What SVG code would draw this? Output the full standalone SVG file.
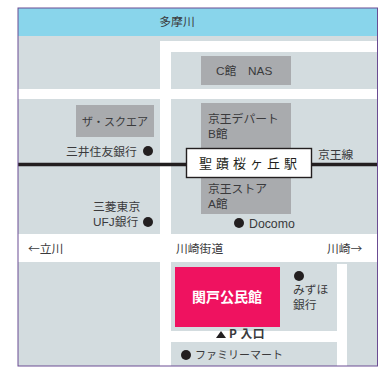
<svg xmlns="http://www.w3.org/2000/svg" width="392" height="367" viewBox="0 0 392 367">
<style>
text{font-family:"Noto Sans CJK JP","Liberation Sans",sans-serif;font-size:11.8px;fill:#3a3a3c}
.l{font-family:"Liberation Sans","Noto Sans CJK JP",sans-serif}
.g{fill:#a9abae}
.d{fill:#231f20}
</style>
<rect width="392" height="367" fill="#fff"/>
<rect id="ground" x="18" y="8" width="360" height="358" fill="#d3dcdf"/>
<g id="river"><rect x="18" y="8" width="360" height="28" fill="#89d5eb"/><text x="177" y="26" text-anchor="middle">多摩川</text></g>
<g id="roads" fill="#fff">
<rect x="18" y="89" width="360" height="10"/>
<rect x="160" y="41" width="11" height="325"/>
<rect x="160" y="41" width="218" height="11"/>
<rect x="18" y="234" width="360" height="28"/>
<rect x="171" y="331" width="170" height="11"/>
<rect x="337" y="264" width="10" height="102"/>
</g>
<g id="line-label"><text x="318" y="159">京王線</text></g>
<g id="connectors"><line x1="18" y1="164.500" x2="378" y2="164.500" stroke="#231f20" stroke-width="3.400"/></g>
<g id="c-nas"><rect class="g" x="201" y="56" width="90" height="29"/><text class="l" x="216" y="75">C館</text><text class="l" x="248" y="75">NAS</text></g>
<g id="keio-dept"><rect class="g" x="201" y="103" width="90" height="60"/><text x="208" y="123">京王デパート</text><text class="l" x="208" y="138">B館</text></g>
<g id="keio-store"><rect class="g" x="201" y="166" width="90" height="48"/><text x="208" y="193">京王ストア</text><text class="l" x="208" y="208">A館</text></g>
<g id="the-square"><rect class="g" x="76" y="105" width="78" height="32"/><text x="115" y="126" text-anchor="middle" style="font-size:11px">ザ・スクエア</text></g>
<g id="station"><rect x="186.500" y="148.500" width="125" height="29" fill="#fff" stroke="#231f20" stroke-width="1.400"/><text x="199" y="168" style="font-size:13px;letter-spacing:4px;fill:#231f20">聖蹟桜ヶ丘駅</text></g>
<g id="smbc"><text x="66" y="156">三井住友銀行</text><circle class="d" cx="148" cy="151" r="5"/></g>
<g id="mufg"><text x="93" y="211">三菱東京</text><text class="l" x="93" y="226">UFJ<tspan style="font-family:'Noto Sans CJK JP'">銀行</tspan></text><circle class="d" cx="148" cy="222" r="5"/></g>
<g id="docomo"><circle class="d" cx="239" cy="223" r="5"/><text class="l" x="249" y="228" style="font-size:12.300px">Docomo</text></g>
<g id="road-labels"><text x="28" y="253">←立川</text><text x="176" y="253">川崎街道</text><text x="327" y="253">川崎→</text></g>
<g id="sekido"><rect x="175" y="267" width="105" height="60" fill="#ef1260"/><text x="192" y="302" style="font-size:14px;font-weight:700;fill:#fff">関戸公民館</text></g>
<g id="mizuho"><circle class="d" cx="299" cy="276" r="5"/><text x="293" y="294">みずほ</text><text x="293" y="309">銀行</text></g>
<g id="parking"><polygon class="d" points="216,338 226,338 221,331"/><text x="229" y="338" style="font-weight:700;letter-spacing:.5px">P 入口</text></g>
<g id="familymart"><circle class="d" cx="186" cy="355" r="5"/><text x="195" y="359" style="font-size:11px">ファミリーマート</text></g>
<g id="frame"><rect x="18" y="8" width="359.500" height="358" fill="none" stroke="#6b4c93" stroke-width="1"/></g>
</svg>
